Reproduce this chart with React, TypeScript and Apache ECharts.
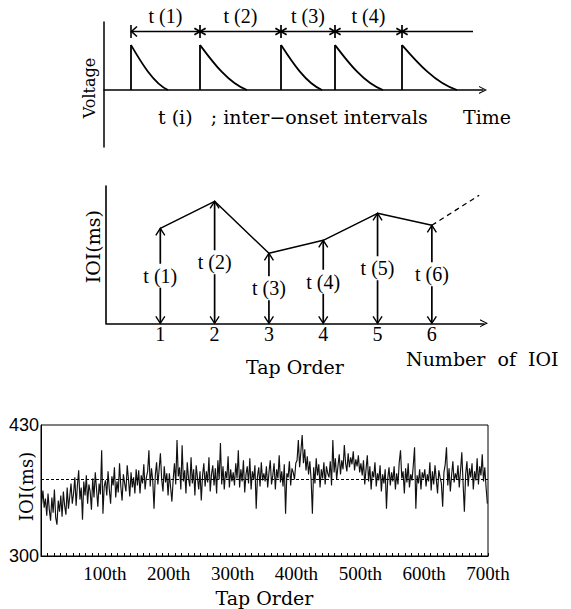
import React, { useEffect, useRef } from "react";
import * as echarts from "echarts";

// ---------- Panel A: voltage trace (schematic) ----------
const pulseOnsets = [27, 96, 177, 231, 298];
const pulseDecayEnds = [64, 143, 218, 279, 353];
const pulseAmplitude = 1;
const intervalMarkerLevel = 1.3;
const intervalLineEnd = 369;
const intervalLabels = ["t (1)", "t (2)", "t (3)", "t (4)"];

// ---------- Panel B: IOI sketch ----------
const tapOrder = [1, 2, 3, 4, 5, 6];
const ioiSketch = [95, 122, 70, 83, 110, 98];
const ioiSketchLabels = ["t (1)", "t (2)", "t (3)", "t (4)", "t (5)", "t (6)"];
const ioiSketchNext = [6.87, 128];

// ---------- Panel C: measured IOI (every 2nd tap) ----------
const ioiByTap = [
  352, 365, 348, 357, 340, 362, 346, 335, 358, 343, 366, 338, 331, 355, 344, 360, 339, 364, 350, 341, 368, 347, 359, 372, 352,
  362, 378, 350, 370, 385, 356, 368, 336, 374, 360, 380, 352, 371, 364, 346, 377, 358, 383, 366, 349, 372, 361, 405, 342, 369,
  375, 360, 384, 366, 352, 379, 370, 388, 358, 374, 363, 392, 369, 355, 381, 372, 364, 390, 376, 359, 383, 368, 378, 362, 386,
  370, 385, 362, 380, 372, 391, 366, 378, 384, 405, 369, 387, 375, 347, 380, 393, 371, 386, 402, 376, 364, 389, 373, 382, 360,
  382, 368, 354, 376, 392, 371, 415, 379, 388, 366, 410, 374, 385, 362, 393, 377, 369, 398, 372, 386, 360, 390, 378, 366, 384,
  355, 380, 392, 369, 384, 373, 398, 364, 381, 390, 370, 387, 362, 395, 376, 412, 371, 389, 366, 384, 377, 399, 368, 386, 374,
  383, 370, 392, 377, 405, 368, 386, 374, 395, 363, 381, 389, 372, 397, 366, 384, 376, 390, 347, 379, 388, 369, 393, 375, 382,
  374, 389, 368, 383, 395, 371, 380, 392, 366, 386, 377, 400, 373, 384, 369, 391, 342, 382, 378, 394, 370, 387, 383, 376, 392,
  395, 415, 388, 404, 420, 392, 406, 385, 399, 381, 394, 376, 342, 388, 372, 397, 380, 391, 368, 386, 377, 393, 371, 389, 382,
  378, 394, 370, 415, 383, 397, 376, 389, 401, 381, 395, 386, 410, 392, 384, 402, 388, 398, 391, 404, 385, 396, 389, 400, 383,
  392, 380, 395, 371, 386, 400, 374, 389, 366, 384, 378, 393, 369, 382, 375, 390, 364, 381, 372, 386, 347, 377, 388, 370, 383,
  374, 389, 366, 382, 371, 393, 405, 377, 384, 362, 387, 373, 392, 368, 381, 375, 390, 408, 347, 380, 372, 386, 366, 383, 377,
  386, 369, 381, 374, 393, 365, 384, 371, 390, 376, 362, 385, 378, 372, 349, 383, 391, 408, 370, 387, 364, 380, 394, 373, 382,
  376, 390, 368, 385, 403, 372, 344, 381, 394, 369, 387, 378, 392, 366, 384, 375, 397, 371, 389, 380, 401, 374, 388, 368, 352,
];
const tapStep = 2;
const meanIoi = 376;
const ioiAxisLabels = [300, 430];

const SERIF = '"DejaVu Serif", serif';
const NUM = '"Liberation Serif", "Times New Roman", serif';
const SANS = '"Liberation Sans", Arial, sans-serif';
const chevronUp = "path://M0,10 L5,0 L10,10 L8.6,10 L5,2.8 L1.4,10 Z";

function buildOption(): any {
  const black = "#000";
  const thin = { stroke: black, lineWidth: 1.4, fill: null };

  const pulseRender = (params: any, api: any) => {
    const i = params.dataIndex;
    const onset = api.value(0);
    const amp = api.value(1);
    const end = api.value(2);
    const b = api.coord([onset, 0]);
    const t = api.coord([onset, amp]);
    const e = api.coord([end, 0]);
    const w = e[0] - t[0];
    const h = e[1] - t[1];
    const m = api.coord([onset, intervalMarkerLevel]);
    const stroke = { stroke: black, lineWidth: 1.8, fill: null };
    const children: any[] = [
      { type: "line", shape: { x1: b[0], y1: b[1], x2: t[0], y2: t[1] }, style: stroke },
      {
        type: "bezierCurve",
        shape: {
          x1: t[0], y1: t[1],
          cpx1: t[0] + 0.25 * w, cpy1: t[1] + 0.35 * h,
          cpx2: t[0] + 0.6 * w, cpy2: t[1] + 0.85 * h,
          x2: e[0], y2: e[1],
        },
        style: stroke,
      },
    ];
    if (i === 0) {
      children.push({ type: "line", shape: { x1: m[0], y1: m[1] - 6.5, x2: m[0], y2: m[1] + 6.5 }, style: { ...thin, lineWidth: 1.6 } });
      children.push({
        type: "polyline",
        shape: { points: [[m[0] + 6, m[1] - 5], [m[0] + 0.5, m[1]], [m[0] + 6, m[1] + 5]] },
        style: { ...thin, lineWidth: 1.6 },
      });
    } else {
      const r = 6.5;
      [90, 30, -30].forEach((ang) => {
        const dx = r * Math.cos((ang * Math.PI) / 180);
        const dy = r * Math.sin((ang * Math.PI) / 180);
        children.push({
          type: "line",
          shape: { x1: m[0] - dx, y1: m[1] - dy, x2: m[0] + dx, y2: m[1] + dy },
          style: { stroke: black, lineWidth: 1.7 },
        });
      });
    }
    if (i < intervalLabels.length) {
      const n = api.coord([pulseOnsets[i + 1], intervalMarkerLevel]);
      children.push({
        type: "text",
        x: (m[0] + n[0]) / 2,
        y: m[1] - 15,
        style: {
          text: intervalLabels[i], font: `20px ${NUM}`, fill: black,
          align: "center", verticalAlign: "middle", textAlign: "center", textVerticalAlign: "middle",
        },
      });
    }
    return { type: "group", children };
  };

  const arrowRender = (params: any, api: any) => {
    const i = params.dataIndex;
    const x = api.value(0);
    const v = api.value(1);
    const b = api.coord([x, 0]);
    const t = api.coord([x, v]);
    const mid = api.coord([x, v / 2]);
    const a = 4.5;
    const hh = 7;
    return {
      type: "group",
      children: [
        { type: "line", shape: { x1: b[0], y1: b[1], x2: t[0], y2: t[1] }, style: { stroke: black, lineWidth: 1.7 } },
        { type: "polyline", shape: { points: [[t[0] - a, t[1] + hh], [t[0], t[1]], [t[0] + a, t[1] + hh]] }, style: thin },
        { type: "polyline", shape: { points: [[b[0] - a, b[1] - hh], [b[0], b[1]], [b[0] + a, b[1] - hh]] }, style: thin },
        {
          type: "text",
          x: mid[0],
          y: mid[1],
          style: {
            text: ioiSketchLabels[i], font: `20px ${NUM}`, fill: black,
            align: "center", verticalAlign: "middle", textAlign: "center", textVerticalAlign: "middle",
            backgroundColor: "#fff", padding: [2, 0, 2, 0],
          },
        },
      ],
    };
  };

  const hidden = { show: false };

  return {
    animation: false,
    backgroundColor: "#fff",
    grid: [
      { left: 104, top: 22, width: 379, height: 125, outerBoundsMode: "none", containLabel: false },
      { left: 106, top: 186, width: 378, height: 137.3, outerBoundsMode: "none", containLabel: false },
      {
        left: 41, top: 425, width: 447, height: 131, show: true, borderColor: black, borderWidth: 1,
        backgroundColor: "transparent", outerBoundsMode: "none", containLabel: false,
      },
    ],
    xAxis: [
      {
        gridIndex: 0, type: "value", min: 0, max: 379,
        axisLine: { show: true, onZero: true, symbol: ["none", chevronUp], symbolSize: [9, 8], lineStyle: { color: black, width: 1.5 } },
        axisTick: hidden, axisLabel: hidden, splitLine: hidden,
      },
      {
        gridIndex: 1, type: "value", min: 0, max: 6.96, interval: 1,
        axisLine: { show: true, onZero: true, symbol: ["none", chevronUp], symbolSize: [9, 8], lineStyle: { color: black, width: 1.6 } },
        axisTick: hidden,
        axisLabel: {
          show: true, margin: 1, color: black, fontFamily: NUM, fontSize: 20,
          formatter: (v: number) => (tapOrder.indexOf(v) >= 0 ? String(v) : ""),
        },
        splitLine: hidden,
        name: "Tap Order", nameLocation: "middle", nameGap: 34, nameMoveOverlap: false,
        nameTextStyle: { color: black, fontFamily: SERIF, fontSize: 19 },
      },
      {
        gridIndex: 2, type: "value", min: 0, max: 700, interval: 100,
        axisLine: { show: true, onZero: false, lineStyle: { color: black, width: 1 } },
        axisTick: { show: true, inside: true, length: 3, lineStyle: { color: black } },
        minorTick: { show: true, splitNumber: 10, length: 3, lineStyle: { color: black } },
        axisLabel: {
          show: true, margin: 8, color: black, fontFamily: NUM, fontSize: 19,
          formatter: (v: number) => (v === 0 ? "" : `${v}th`),
        },
        splitLine: hidden, minorSplitLine: hidden,
        name: "Tap Order", nameLocation: "middle", nameGap: 32, nameMoveOverlap: false,
        nameTextStyle: { color: black, fontFamily: SERIF, fontSize: 19 },
      },
    ],
    yAxis: [
      {
        gridIndex: 0, type: "value", min: -1.267, max: 1.511,
        axisLine: { show: true, onZero: false, lineStyle: { color: black, width: 1.5 } },
        axisTick: hidden, axisLabel: hidden, splitLine: hidden,
        name: "Voltage", nameLocation: "middle", nameGap: 7, nameRotate: 90, nameMoveOverlap: false,
        nameTextStyle: { color: black, fontFamily: SERIF, fontSize: 16, padding: [0, 7, 0, 0] },
      },
      {
        gridIndex: 1, type: "value", min: 0, max: 137.3,
        axisLine: { show: true, onZero: false, lineStyle: { color: black, width: 1.6 } },
        axisTick: hidden, axisLabel: hidden, splitLine: hidden,
        name: "IOI(ms)", nameLocation: "middle", nameGap: 4, nameRotate: 90, nameMoveOverlap: false,
        nameTextStyle: { color: black, fontFamily: SERIF, fontSize: 19, padding: [0, 0, 0, 16] },
      },
      {
        gridIndex: 2, type: "value", min: 300, max: 430, interval: 10,
        axisLine: { show: true, onZero: false, lineStyle: { color: black, width: 1 } },
        axisTick: hidden, splitLine: hidden,
        axisLabel: {
          show: true, margin: 2, color: black, fontFamily: SANS, fontSize: 18,
          formatter: (v: number) => (ioiAxisLabels.indexOf(v) >= 0 ? String(v) : ""),
        },
        name: "IOI(ms)", nameLocation: "middle", nameGap: 6, nameRotate: 90, nameMoveOverlap: false,
        nameTextStyle: { color: black, fontFamily: SERIF, fontSize: 18, padding: [0, 0, 0, 8] },
      },
    ],
    graphic: [
      {
        type: "text", x: 158, y: 117,
        style: {
          text: "t (i)   ; inter\u2212onset intervals", font: `19px ${SERIF}`, fill: black,
          verticalAlign: "middle", textVerticalAlign: "middle",
        },
      },
      {
        type: "text", x: 463, y: 117,
        style: { text: "Time", font: `19px ${SERIF}`, fill: black, verticalAlign: "middle", textVerticalAlign: "middle" },
      },
      {
        type: "text", x: 406, y: 359,
        style: { text: "Number  of  IOI", font: `19px ${SERIF}`, fill: black, verticalAlign: "middle", textVerticalAlign: "middle" },
      },
    ],
    series: [
      {
        type: "custom", name: "Voltage pulses", xAxisIndex: 0, yAxisIndex: 0, clip: false,
        encode: { x: 0, y: 1 },
        data: pulseOnsets.map((o, i) => [o, pulseAmplitude, pulseDecayEnds[i]]),
        renderItem: pulseRender,
      },
      {
        type: "line", name: "Intervals", xAxisIndex: 0, yAxisIndex: 0, showSymbol: false, symbol: "none",
        lineStyle: { color: black, width: 1.3 },
        data: [[pulseOnsets[0], intervalMarkerLevel], [intervalLineEnd, intervalMarkerLevel]],
      },
      {
        type: "line", name: "IOI sketch", xAxisIndex: 1, yAxisIndex: 1, showSymbol: false, symbol: "none",
        lineStyle: { color: black, width: 1.5 },
        data: tapOrder.map((t, i) => [t, ioiSketch[i]]),
      },
      {
        type: "line", name: "IOI continued", xAxisIndex: 1, yAxisIndex: 1, showSymbol: false, symbol: "none",
        lineStyle: { color: black, width: 1.3, type: [5, 4] },
        data: [[tapOrder[tapOrder.length - 1], ioiSketch[ioiSketch.length - 1]], ioiSketchNext],
      },
      {
        type: "custom", name: "IOI arrows", xAxisIndex: 1, yAxisIndex: 1, clip: false,
        encode: { x: 0, y: 1 },
        data: tapOrder.map((t, i) => [t, ioiSketch[i]]),
        renderItem: arrowRender,
      },
      {
        type: "line", name: "IOI", xAxisIndex: 2, yAxisIndex: 2, showSymbol: false, symbol: "none",
        lineStyle: { color: "#111", width: 1.15 },
        data: ioiByTap.map((v, i) => [i * tapStep + 1, v]),
        markLine: {
          silent: true, symbol: ["none", "none"], label: { show: false },
          lineStyle: { color: black, width: 1, type: [3, 2] },
          data: [{ yAxis: meanIoi }],
        },
      },
    ],
  };
}

export default function App() {
  const ref = useRef<HTMLDivElement>(null);
  useEffect(() => {
    if (!ref.current) return;
    const chart = echarts.init(ref.current, null, { renderer: "svg" });
    chart.setOption(buildOption());
    return () => chart.dispose();
  }, []);
  return (
    <div
      ref={ref}
      style={{ position: "fixed", left: 0, top: 0, width: 571, height: 609, background: "#fff" }}
    />
  );
}
